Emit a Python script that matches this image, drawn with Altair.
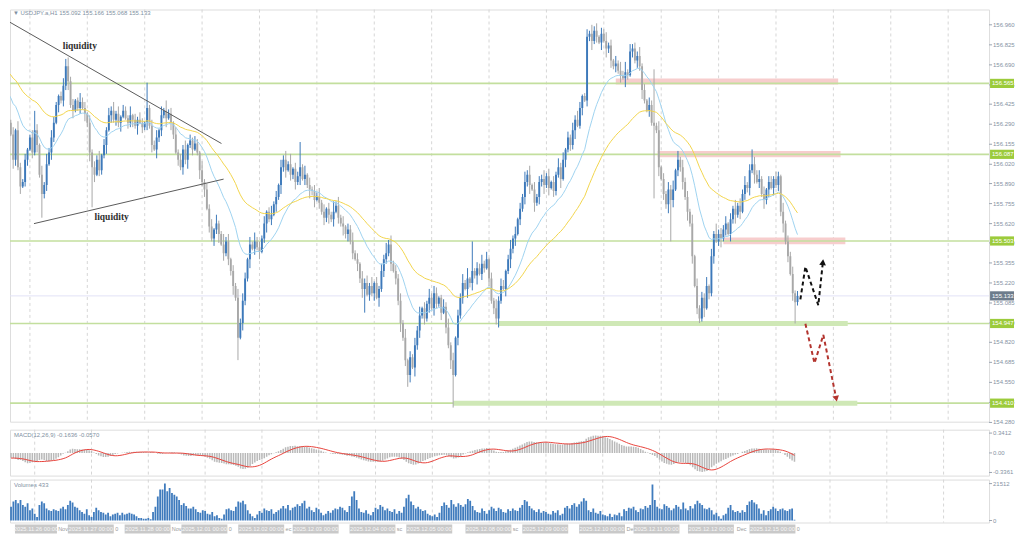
import altair as alt
import pandas as pd

# ---------------- data ----------------
prior_closes = [156.92, 156.95, 156.90, 156.97, 156.93, 156.88, 156.91, 156.95, 156.99, 156.94,
                156.90, 156.86, 156.89, 156.92, 156.87, 156.83, 156.86, 156.90, 156.85, 156.80,
                156.84, 156.79, 156.75, 156.78, 156.82, 156.76, 156.72, 156.75, 156.70, 156.66,
                156.70, 156.64, 156.60, 156.63, 156.58, 156.55, 156.60, 156.56, 156.50, 156.53,
                156.48, 156.52, 156.46, 156.42, 156.47, 156.50, 156.44, 156.40, 156.45, 156.42]

closes = [
    156.40, 156.30, 156.22, 156.05,
    156.25, 156.00, 155.87, 155.90,
    156.05, 156.12, 156.20, 156.10, 156.25, 156.15,
    155.95, 155.82, 155.88,
    156.02, 156.10, 156.20,
    156.30, 156.42, 156.48, 156.45, 156.55, 156.68, 156.58,
    156.42, 156.38, 156.45, 156.40, 156.44, 156.40, 156.36, 156.30,
    156.10, 156.00, 155.95, 156.05, 155.98, 156.08, 156.15,
    156.25, 156.35, 156.38,
    156.32, 156.36, 156.30, 156.34, 156.38, 156.33, 156.30, 156.35, 156.32, 156.28, 156.32, 156.30, 156.27, 156.30,
    156.40, 156.28,
    156.15, 156.12, 156.20, 156.25,
    156.35, 156.38, 156.33, 156.36, 156.30,
    156.22, 156.10, 156.05, 156.00, 156.12, 156.05,
    156.15, 156.18, 156.12, 156.16, 156.10,
    155.98, 155.90, 155.85,
    155.72, 155.60, 155.52, 155.58, 155.62,
    155.55, 155.48, 155.42, 155.50, 155.38,
    155.30, 155.20, 155.12,
    154.85, 154.95,
    155.10, 155.25, 155.38, 155.48,
    155.45, 155.50, 155.46, 155.43, 155.52,
    155.62, 155.70, 155.65, 155.68, 155.75, 155.80, 155.88,
    156.00, 156.05, 155.98, 156.02, 155.95, 155.99,
    155.90, 155.94, 156.00, 155.92, 155.95, 155.88, 155.85,
    155.84, 155.78, 155.80, 155.76,
    155.70, 155.66, 155.72, 155.68, 155.65, 155.70, 155.74, 155.66, 155.62,
    155.60, 155.55, 155.58, 155.50,
    155.42, 155.38, 155.35,
    155.25, 155.18, 155.22, 155.14, 155.20,
    155.15, 155.22, 155.12, 155.18,
    155.30, 155.38, 155.42, 155.48,
    155.35, 155.30, 155.25,
    155.10, 154.95, 154.85, 154.70,
    154.60,
    154.72, 154.65, 154.80,
    154.90, 155.00, 155.05, 154.98, 155.08,
    155.12, 155.05, 155.15, 155.08, 155.12, 155.02, 155.06,
    154.92, 154.80, 154.70, 154.60,
    154.85, 155.00, 155.12,
    155.22, 155.18, 155.25, 155.22, 155.30, 155.27,
    155.32, 155.28, 155.35, 155.32, 155.38,
    155.25, 155.10, 155.05, 154.98,
    155.10, 155.20, 155.18,
    155.30, 155.38, 155.45, 155.52, 155.55, 155.65, 155.72, 155.80,
    155.90, 155.95, 155.88,
    155.85, 155.76, 155.80, 155.90,
    155.92, 155.88, 155.94, 155.86, 155.90, 155.84,
    155.95, 156.00, 155.92,
    156.05, 156.12, 156.20, 156.15, 156.25, 156.32, 156.28,
    156.40, 156.48, 156.45,
    156.88, 156.90,
    156.85, 156.92, 156.88, 156.84, 156.90,
    156.85, 156.80, 156.82,
    156.72, 156.68, 156.70, 156.65,
    156.62, 156.60, 156.64, 156.62,
    156.78, 156.80,
    156.72, 156.75, 156.68,
    156.52, 156.45, 156.38, 156.42,
    156.30, 156.28, 156.25,
    156.00, 155.92,
    155.82, 155.75, 155.85, 155.78,
    155.85,
    155.98, 156.05, 156.00,
    155.90, 155.80, 155.70, 155.62,
    155.40, 155.20, 155.05, 154.98,
    155.12, 155.05, 155.20, 155.15,
    155.40, 155.55, 155.50,
    155.55, 155.52, 155.58, 155.62, 155.55,
    155.65, 155.72, 155.68, 155.74, 155.70,
    155.82, 155.88, 155.86,
    155.98, 156.02,
    155.95, 155.90, 155.92,
    155.82, 155.78, 155.85,
    155.90, 155.86, 155.92, 155.88, 155.94,
    155.70,
    155.62, 155.50,
    155.40, 155.28,
    155.15, 155.09,
    155.133,
]

# upper / lower wick length of each hourly bar, in pips (0.01)
wick_up_pips = ("3425163241 2534162735 4213526341 2634152436 1425362514 3261425316 2435162734 "
                "1524361425 3162435162 2735142635 4152634251 3624153627 1435261524 3625142736 "
                "2514362415 3526142537 1624352614 2536142635 4125362514 3627152436 2514263541 "
                "3625142736 1524362514 2635142536 4125263514 3624152637 2514362415 3526142536 "
                "1625342615 2436152734 3514262536 2415362514 4253162435 21")
wick_dn_pips = ("2316425134 1425263415 3152436251 2415362514 3261524361 1435261425 2516342615 "
                "3142536241 2635142536 1524362415 3261425136 2415263514 3526142635 1425362514 "
                "2635241536 3142516243 2514362415 1635242615 3251426315 2416352614 3152436215 "
                "2635142536 1425362514 3261524361 2514362415 1635242516 3142536214 2526143625 "
                "1435262514 3261425136 2415362514 3526142635 1524362415 32")
# long wicks read individually
high_marks = {12: 156.38, 25: 156.73, 59: 156.57, 123: 156.17, 160: 155.51, 195: 155.50,
              246: 156.95, 262: 156.83, 271: 156.66, 312: 156.12}
low_marks = {15: 155.66, 36: 155.73, 97: 154.70, 150: 155.02, 168: 154.52, 187: 154.38,
             205: 154.94, 221: 155.70, 271: 155.79, 278: 155.50, 290: 154.95, 330: 154.947}
last_ohlc = (155.092, 155.166, 155.068, 155.133)

volumes = [
    8000, 11000, 12000, 10000, 12000, 9000, 8000, 10000, 6000, 7000, 4000, 2000,
    9000, 11000, 10000, 7000, 6000, 5500, 6500, 6000, 5500, 7000, 8000, 6500, 9000,
    11500, 10500, 8000, 7500, 6000, 5000, 4000, 6500, 3000, 2000, 5000, 7500,
    6000, 5000, 4500, 3500, 4500, 2500, 3500, 4000, 4500, 3000, 4500, 3500, 4000, 4500, 4000, 3500,
    2500, 1500, 1500, 1000, 1000, 1500, 800, 5000, 8000,
    14000, 18000, 18000, 21512, 17000, 19000, 16000, 15000, 14000, 12000,
    9000, 10000, 8500, 7000, 7000, 8000, 6500, 5000, 4500, 6000, 5500, 4000, 3500, 5000,
    2500, 3000, 1500, 1000, 3500, 6500, 7000, 6000, 5500, 8000, 11000, 10500, 11500, 9500,
    6000, 4000, 2500, 1500, 3500, 5500, 4500, 7000, 6000, 5500, 6500, 4000, 5000,
    6000, 7000, 8500, 7000, 9000, 6000, 7500, 8000, 9500, 8500, 10000, 11500,
    7000, 8000, 6000, 5000, 7500, 6500,
    4500, 3000, 4000, 5500, 4500, 6000, 7000, 6500, 8000, 7500, 6000, 5000, 8500,
    14000, 17000, 12000, 7000, 5000, 4500, 6000, 4000, 3000, 5000,
    7500, 6500, 9000, 8000, 6000, 7000, 5500, 5000, 6500, 4000, 5500, 4500, 8000,
    13000, 15000, 11000, 9000, 7000, 8000, 6500, 5500, 6000,
    4000, 3000, 2500, 3500, 2000, 4500,
    8500, 10500, 9000, 7500, 12000, 9500, 8000, 10000, 9000, 8000, 9500, 12500, 11500,
    8500, 6000, 5000, 4500, 7000, 5500, 4000, 6000, 8000, 7000, 5500, 7500, 6500, 5000, 4500,
    6500, 5500, 7000, 6000, 5500, 7500, 9000, 12000, 11000, 8500,
    7000, 6000, 5000, 6500, 4500, 5500, 5000, 4000, 3500, 5500, 4500, 6000, 3000, 4000,
    7500, 8500, 7000, 9000, 10000, 8000, 9500, 11000, 13000, 11500,
    6000, 5000, 7000, 4500, 4000, 5500, 3500, 3000, 2500, 4000, 2000, 3500, 3000, 4500, 2500,
    6500, 5500, 7500, 7000, 8000, 6000, 5000, 7000, 6500, 8500, 7500, 9000, 21000,
    12000, 8000, 7000, 6500, 9500, 8500, 7500, 6000, 7000, 9000, 8000, 6500, 10500, 7000,
    6000, 8500, 7000, 9500,
    11500, 10000, 9000, 7000, 6500, 7500, 6000, 3500, 4500, 2500, 1000, 3000, 4000,
    7500, 9000, 6000, 5000, 5500, 4500, 6000, 5000, 9000, 11000, 12000, 10500, 9500,
    7000, 4000, 6000, 3000, 5500, 6500, 8000, 7000, 5500, 6500, 7000, 6000, 5500, 6500, 7000,
    433,
]

level_prices = [156.565, 156.087, 155.503, 154.947, 154.410]
level_texts = ["156.565", "156.087", "155.503", "154.947", "154.410"]
support_start = [206, 187]
support_end = [352, 356]
support_price = [154.947, 154.410]
zone_start = [255, 272.5, 300]
zone_end = [348, 349, 351]
zone_low = [156.557, 156.068, 155.481]
zone_high = [156.598, 156.109, 155.527]

price_ticks = [156.960, 156.825, 156.690, 156.555, 156.425, 156.290, 156.155, 156.020, 155.890,
               155.755, 155.620, 155.490, 155.355, 155.220, 155.085, 154.950, 154.820, 154.685,
               154.550, 154.415, 154.280]
price_tick_texts = ["156.960", "156.825", "156.690", "156.555", "156.425", "156.290", "156.155",
                    "156.020", "155.890", "155.755", "155.620", "155.490", "155.355", "155.220",
                    "155.085", "154.950", "154.820", "154.685", "154.550", "154.415", "154.280"]
macd_ticks = [0.3412, 0.0, -0.3361]
macd_tick_texts = ["0.3412", "0.00", "-0.3361"]
vol_ticks = [21512, 0]
vol_tick_texts = ["21512", "0"]

time_label_bars = [0, 24, 48, 72, 96, 119, 143, 167, 192, 216, 240, 263, 286, 312]
time_labels = ["2025.11.26 00:00", "2025.11.27 00:00", "2025.11.28 00:00", "2025.12.01 00:00",
               "2025.12.02 00:00", "2025.12.03 00:00", "2025.12.04 00:00", "2025.12.05 00:00",
               "2025.12.08 00:00", "2025.12.09 00:00", "2025.12.10 00:00", "2025.12.11 00:00",
               "2025.12.12 00:00", "2025.12.15 00:00"]
frag_bars = [19.9, 44.0, 67.9, 92.0, 116.0, 163.0, 212.0, 260.0, 306.6, 332.0]
frag_texts = ["Nov", "0", "Nov", "0", "ec", "sc", "sc", "De", "Dec", "0"]
grid_bars = [10, 34, 58, 82, 106, 130, 154, 178, 202, 226, 250, 274, 298, 322, 346, 370, 394]

trend_upper_bar = [-0.4, 90.1]
trend_upper_price = [156.996, 156.16]
trend_lower_bar = [11.7, 91.0]
trend_lower_price = [155.62, 155.92]
liq_bar = [30.9, 44.2]
liq_price = [156.82, 155.665]

up_path_bar = [332.2, 334.3, 339.7, 341.6]
up_path_price = [155.11, 155.33, 155.07, 155.36]
down_path_bar = [334.3, 338.1, 341.8, 347.2]
down_path_price = [154.945, 154.68, 154.87, 154.44]

header = "\u25bc USDJPY.a,H1  155.092 155.166 155.068 155.133"
macd_header = "MACD(12,26,9) -0.1636 -0.0570"
vol_header = "Volumes 433"

# ---------------- build tables ----------------
n = min(len(closes), len(volumes))
wu = [int(c) for c in wick_up_pips if c.isdigit()]
wd = [int(c) for c in wick_dn_pips if c.isdigit()]
rows = []
prev = prior_closes[-1]
for i in range(n):
    c = closes[i]
    o = prev
    hi = max(o, c) + (wu[i] if i < len(wu) else 0) * 0.01
    lo = min(o, c) - (wd[i] if i < len(wd) else 0) * 0.01
    if i in high_marks:
        hi = max(high_marks[i], o, c)
    if i in low_marks:
        lo = min(low_marks[i], o, c)
    if i == n - 1:
        o, hi, lo, c = last_ohlc
    rows.append(dict(bar=i, open=o, close=c, high=hi, low=lo,
                     dir="up" if c >= o else "down", vol=volumes[i]))
    prev = c
cdf = pd.DataFrame(rows)

s = pd.Series(prior_closes + closes[:n])
P = len(prior_closes)
ma_fast = s.ewm(span=20, adjust=False).mean()
ma_slow = s.ewm(span=50, adjust=False).mean()
macd_main = s.ewm(span=12, adjust=False).mean() - s.ewm(span=26, adjust=False).mean()
macd_signal = macd_main.rolling(9, min_periods=1).mean()
cdf["ma_fast"] = ma_fast.iloc[P:].values
cdf["ma_slow"] = ma_slow.iloc[P:].values
cdf["macd"] = macd_main.iloc[P:].values
cdf["signal"] = macd_signal.iloc[P:].values

# ---------------- layout constants ----------------
W = 981
H_MAIN, H_MACD, H_VOL = 413, 46, 43
XMIN, XMAX = 1.67, 411.1
BLUE, GREY = "#3d79ba", "#a8a8a8"
LEVEL = "#c3df9e"
AXIS_TXT = "#8592a4"
FONT = "Liberation Sans"

xs = alt.Scale(domain=[XMIN, XMAX], nice=False, zero=False)
ys_main = alt.Scale(domain=[154.285, 157.063], nice=False, zero=False)
ys_macd = alt.Scale(domain=[-0.39, 0.40], nice=False, zero=False)
ys_vol = alt.Scale(domain=[-1162, 23837], nice=False, zero=False)


def X(f):
    return alt.X(f, type="quantitative", scale=xs, axis=None)


def Y(f, sc):
    return alt.Y(f, type="quantitative", scale=sc, axis=None)


grid_df = pd.DataFrame({"bar": grid_bars})


def grid():
    return alt.Chart(grid_df).mark_rule(strokeDash=[3, 3], color="#d6d6d6", strokeWidth=1).encode(x=X("bar"))


def right_labels(ticks, texts, sc):
    d = pd.DataFrame({"v": ticks, "t": texts})
    tk = alt.Chart(d).mark_rule(color="#9aa5b3").encode(
        y=Y("v", sc), x=alt.value(W), x2=alt.value(W + 3))
    tx = alt.Chart(d).mark_text(align="left", baseline="middle", fontSize=6, font=FONT,
                                color=AXIS_TXT).encode(
        y=Y("v", sc), x=alt.value(W + 4), text="t:N")
    return [tk, tx]


color_dir = alt.Color("dir:N", scale=alt.Scale(domain=["up", "down"], range=[BLUE, GREY]), legend=None)

# ---------------- main panel ----------------
cbase = alt.Chart(cdf)
zones_df = pd.DataFrame({"s": zone_start, "e": zone_end, "lo": zone_low, "hi": zone_high})
zones = alt.Chart(zones_df).mark_rect(color="#f7cdcd", clip=True).encode(
    x=X("s"), x2="e", y=Y("lo", ys_main), y2="hi")
levels_df = pd.DataFrame({"p": level_prices, "t": level_texts})
levels = alt.Chart(levels_df).mark_rule(color=LEVEL, strokeWidth=1.6).encode(y=Y("p", ys_main))
sup_df = pd.DataFrame({"s": support_start, "e": support_end, "p": support_price})
supports = alt.Chart(sup_df).mark_rule(color="#cfe8b6", strokeWidth=5, clip=True).encode(
    x=X("s"), x2="e", y=Y("p", ys_main))
cur_line = alt.Chart(pd.DataFrame({"p": [last_ohlc[3]]})).mark_rule(
    color="#e2e2f6", strokeWidth=1).encode(y=Y("p", ys_main))

wicks = cbase.mark_rule(strokeWidth=1, clip=True).encode(
    x=X("bar"), y=Y("low", ys_main), y2="high", color=color_dir)
bodies = cbase.mark_rule(strokeWidth=1.9, clip=True).encode(
    x=X("bar"), y=Y("open", ys_main), y2="close", color=color_dir)
ma1 = cbase.mark_line(color="#9fd3f0", strokeWidth=1, clip=True).encode(
    x=X("bar"), y=Y("ma_fast", ys_main))
ma2 = cbase.mark_line(color="#f2d54c", strokeWidth=1, clip=True).encode(
    x=X("bar"), y=Y("ma_slow", ys_main))

tl_df = pd.DataFrame({"bar": trend_upper_bar + trend_lower_bar,
                      "p": trend_upper_price + trend_lower_price,
                      "g": ["u", "u", "l", "l"]})
trend = alt.Chart(tl_df).mark_line(color="#5a5a5a", strokeWidth=1, clip=True).encode(
    x=X("bar"), y=Y("p", ys_main), detail="g:N")
liq = alt.Chart(pd.DataFrame({"bar": liq_bar, "p": liq_price, "t": ["liquidity", "liquidity"]})).mark_text(
    font="Liberation Serif", fontWeight="bold", fontSize=9.5, color="#2e2e2e").encode(
    x=X("bar"), y=Y("p", ys_main), text="t:N")

up_df = pd.DataFrame({"bar": up_path_bar, "p": up_path_price, "o": range(len(up_path_bar))})
dn_df = pd.DataFrame({"bar": down_path_bar, "p": down_path_price, "o": range(len(down_path_bar))})
up_path = alt.Chart(up_df).mark_line(color="#111111", strokeWidth=2, strokeDash=[4, 3]).encode(
    x=X("bar"), y=Y("p", ys_main), order="o:Q")
dn_path = alt.Chart(dn_df).mark_line(color="#b3342e", strokeWidth=2, strokeDash=[4, 3]).encode(
    x=X("bar"), y=Y("p", ys_main), order="o:Q")
up_head = alt.Chart(up_df.tail(1)).mark_point(shape="triangle-up", filled=True, size=45,
                                               color="#111111", opacity=1, angle=6).encode(
    x=X("bar"), y=Y("p", ys_main))
dn_head = alt.Chart(dn_df.tail(1)).mark_point(shape="triangle-up", filled=True, size=45,
                                               color="#b3342e", opacity=1, angle=168).encode(
    x=X("bar"), y=Y("p", ys_main))

title_main = alt.Chart(pd.DataFrame({"t": [header]})).mark_text(
    align="left", baseline="top", fontSize=6, font=FONT, color="#8090a2").encode(
    x=alt.value(3), y=alt.value(0.5), text="t:N")

lvl_box_df = pd.DataFrame({"p": level_prices, "t": level_texts})
lvl_box_df["lo"] = lvl_box_df["p"] - 0.031
lvl_box_df["hi"] = lvl_box_df["p"] + 0.031
cur_box_df = pd.DataFrame({"p": [last_ohlc[3]], "t": ["155.133"]})
cur_box_df["lo"] = cur_box_df["p"] - 0.031
cur_box_df["hi"] = cur_box_df["p"] + 0.031


def price_box(df, fill):
    b = alt.Chart(df).mark_rect(color=fill).encode(
        x=alt.value(W + 1), x2=alt.value(W + 25), y=Y("lo", ys_main), y2="hi")
    t = alt.Chart(df).mark_text(align="left", baseline="middle", fontSize=6, font=FONT,
                                color="white").encode(
        x=alt.value(W + 3), y=Y("p", ys_main), text="t:N")
    return [b, t]


main = alt.layer(
    grid(), zones, levels, supports, cur_line, wicks, bodies, ma1, ma2, trend, liq,
    up_path, dn_path, up_head, dn_head, title_main,
    *right_labels(price_ticks, price_tick_texts, ys_main),
    *price_box(lvl_box_df, "#9ccb3b"), *price_box(cur_box_df, "#6d7c8c"),
).properties(width=W, height=H_MAIN)

# ---------------- MACD panel ----------------
hist = cbase.mark_bar(size=1.5, color="#b9b9b9", clip=True).encode(
    x=X("bar"), y=Y("macd", ys_macd), y2=alt.datum(0))
sig = cbase.mark_line(color="#e8433c", strokeWidth=1, clip=True).encode(
    x=X("bar"), y=Y("signal", ys_macd))
macd_title = alt.Chart(pd.DataFrame({"t": [macd_header]})).mark_text(
    align="left", baseline="top", fontSize=6, font=FONT, color="#8090a2").encode(
    x=alt.value(4), y=alt.value(2), text="t:N")
macd = alt.layer(grid(), hist, sig, macd_title,
                 *right_labels(macd_ticks, macd_tick_texts, ys_macd)).properties(width=W, height=H_MACD)

# ---------------- volume panel ----------------
vbars = cbase.mark_bar(size=1.8, color="#3f7bbd", clip=True).encode(
    x=X("bar"), y=Y("vol", ys_vol), y2=alt.datum(0))
vol_title = alt.Chart(pd.DataFrame({"t": [vol_header]})).mark_text(
    align="left", baseline="top", fontSize=6, font=FONT, color="#8090a2").encode(
    x=alt.value(4), y=alt.value(2), text="t:N")
tl = pd.DataFrame({"bar": time_label_bars, "t": time_labels})
tl["e"] = tl["bar"] + 19.4
tl["s"] = tl["bar"].clip(lower=XMIN)
tl["m"] = (tl["s"] + tl["e"]) / 2
tboxes = alt.Chart(tl).mark_rect(color="#c9c9c9").encode(
    x=X("s"), x2="e", y=alt.value(H_VOL + 2), y2=alt.value(H_VOL + 11))
ttext = alt.Chart(tl).mark_text(baseline="middle", fontSize=5.8, font=FONT, color="#f7f7f7").encode(
    x=X("m"), y=alt.value(H_VOL + 6.5), text="t:N")
fr = pd.DataFrame({"bar": frag_bars, "t": frag_texts})
ftext = alt.Chart(fr).mark_text(align="left", baseline="middle", fontSize=5.5, font=FONT,
                                color="#9a9a9a").encode(
    x=X("bar"), y=alt.value(H_VOL + 6.5), text="t:N")
vol = alt.layer(grid(), vbars, vol_title, ftext, tboxes, ttext,
                *right_labels(vol_ticks, vol_tick_texts, ys_vol)).properties(width=W, height=H_VOL)

chart = alt.vconcat(main, macd, vol, spacing=2).properties(padding=0).configure_view(
    stroke="#a6aeb8", strokeWidth=1).configure(background="white")

chart.save("out.html", embed_options={"renderer": "svg", "actions": False})
